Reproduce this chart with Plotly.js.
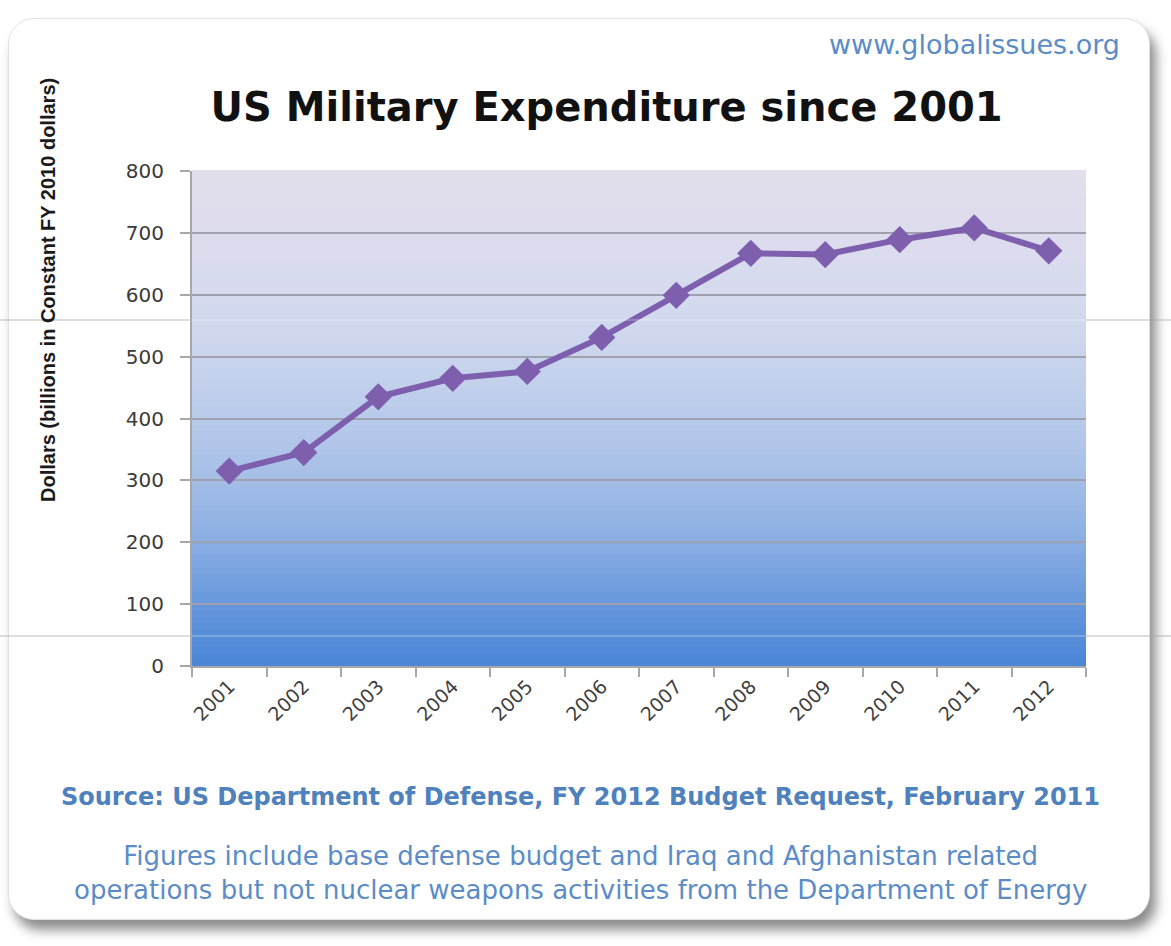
<!DOCTYPE html>
<html>
<head>
<meta charset="utf-8">
<script src="https://cdn.plot.ly/plotly-3.0.1.min.js"></script>
<style>
  html, body { margin: 0; padding: 0; background: #ffffff; }
  #wrap { position: relative; width: 1171px; height: 946px; overflow: hidden; }
  #card { position: absolute; left: 8px; top: 18px; width: 1140px; height: 900px;
          border-radius: 26px; background: #ffffff; border: 1px solid #e2e2e2;
          box-shadow: 6px 10px 12px rgba(0,0,0,0.45); }
  #chart { position: absolute; left: 0; top: 0; width: 1171px; height: 946px; }
</style>
</head>
<body>
<div id="wrap">
  <div id="card"></div>
  <div id="chart"></div>
</div>
<script>
// ---- data ----
const years = ["2001","2002","2003","2004","2005","2006","2007","2008","2009","2010","2011","2012"];
const spending = [315, 345, 435, 465, 476, 531, 599, 667, 665, 689, 708, 671];
const yTickValues = [0, 100, 200, 300, 400, 500, 600, 700, 800];

const chartTitle = "US Military Expenditure since 2001";
const yAxisTitle = "Dollars (billions in Constant FY 2010 dollars)";
const siteLabel = "www.globalissues.org";
const sourceNote = "Source: US Department of Defense, FY 2012 Budget Request, February 2011";
const figuresNote = "Figures include base defense budget and Iraq and Afghanistan related<br>operations but not nuclear weapons activities from the Department of Energy";

// ---- gradient background bands (styling only) ----
const stops = [
  [0.00, [74, 134, 214]],
  [0.10, [96, 147, 219]],
  [0.25, [138, 174, 227]],
  [0.40, [169, 193, 232]],
  [0.55, [192, 207, 236]],
  [0.70, [210, 217, 238]],
  [0.85, [220, 220, 238]],
  [1.00, [227, 223, 236]]
];
function colorAt(t) {
  for (let i = 0; i < stops.length - 1; i++) {
    const a = stops[i], b = stops[i + 1];
    if (t >= a[0] && t <= b[0]) {
      const f = (t - a[0]) / (b[0] - a[0]);
      const c = a[1].map((v, k) => Math.round(v + (b[1][k] - v) * f));
      return `rgb(${c[0]},${c[1]},${c[2]})`;
    }
  }
  const l = stops[stops.length - 1][1];
  return `rgb(${l[0]},${l[1]},${l[2]})`;
}
const shapes = [];
const nBands = 80;
for (let i = 0; i < nBands; i++) {
  const y0 = i / nBands, y1 = (i + 1) / nBands + 0.002;
  shapes.push({
    type: "rect", xref: "paper", yref: "paper", layer: "below",
    x0: 0, x1: 1, y0: y0, y1: y1,
    fillcolor: colorAt((i + 0.5) / nBands), line: { width: 0 }
  });
}
// faint scan-artifact lines seen in the reference image
[320, 636].forEach(py => {
  const yp = (666 - py) / 495;
  shapes.push({ type: "line", xref: "paper", yref: "paper", layer: "above",
    x0: -192 / 894, x1: 0, y0: yp, y1: yp, line: { color: "rgba(170,170,170,0.8)", width: 1 } });
  shapes.push({ type: "line", xref: "paper", yref: "paper", layer: "above",
    x0: 0, x1: 1, y0: yp, y1: yp, line: { color: "rgba(255,255,255,0.45)", width: 1 } });
  shapes.push({ type: "line", xref: "paper", yref: "paper", layer: "above",
    x0: 1, x1: 1 + 85 / 894, y0: yp, y1: yp, line: { color: "rgba(170,170,170,0.8)", width: 1 } });
});

const trace = {
  x: years,
  y: spending,
  type: "scatter",
  mode: "lines+markers",
  line: { color: "#7e5fae", width: 6 },
  marker: { symbol: "diamond", size: 21, color: "#7e5fae" },
  hoverinfo: "x+y",
  showlegend: false
};

const blue = "#4f81bd";
const layout = {
  width: 1171,
  height: 946,
  margin: { l: 192, r: 85, t: 171, b: 280 },
  paper_bgcolor: "rgba(0,0,0,0)",
  plot_bgcolor: "rgba(0,0,0,0)",
  title: {
    text: chartTitle,
    xref: "container", yref: "container",
    x: 0.518, y: 0.887, xanchor: "center", yanchor: "middle",
    font: { family: "DejaVu Sans, sans-serif", size: 40, color: "#111111", weight: 700 }
  },
  xaxis: {
    type: "category",
    range: [-0.5, 11.5],
    tickson: "boundaries",
    ticks: "outside", ticklen: 9, tickcolor: "#a8a8a8", tickwidth: 2,
    showline: true, linecolor: "#a8a8a8", linewidth: 2,
    showgrid: false,
    tickangle: -45,
    tickfont: { family: "DejaVu Sans, sans-serif", size: 19, color: "#404040" },
    fixedrange: true
  },
  yaxis: {
    range: [0, 800],
    tickvals: yTickValues,
    ticks: "outside", ticklen: 10, tickcolor: "#a8a8a8", tickwidth: 2,
    ticklabelstandoff: 12,
    showline: true, linecolor: "#a8a8a8", linewidth: 2,
    showgrid: true, gridcolor: "#a0a0ae", gridwidth: 2,
    zeroline: false,
    tickfont: { family: "DejaVu Sans, sans-serif", size: 20, color: "#3a3a3a" },
    fixedrange: true
  },
  shapes: shapes,
  annotations: [
    {
      text: yAxisTitle, textangle: -90,
      xref: "paper", yref: "paper",
      x: (48 - 192) / 894, y: (666 - 290) / 495,
      xanchor: "center", yanchor: "middle", showarrow: false,
      font: { family: "Liberation Sans Narrow, Liberation Sans, sans-serif", size: 20, color: "#1a1a1a", weight: 700 }
    },
    {
      text: siteLabel,
      xref: "paper", yref: "paper",
      x: (1122 - 192) / 894, y: (666 - 45) / 495,
      xanchor: "right", yanchor: "middle", showarrow: false,
      font: { family: "DejaVu Sans, sans-serif", size: 27, color: "#5b8cc8" }
    },
    {
      text: sourceNote,
      xref: "paper", yref: "paper",
      x: (580 - 192) / 894, y: (666 - 797) / 495,
      xanchor: "center", yanchor: "middle", showarrow: false,
      font: { family: "DejaVu Sans, sans-serif", size: 24, color: blue, weight: 700 }
    },
    {
      text: figuresNote,
      xref: "paper", yref: "paper",
      x: (580 - 192) / 894, y: (666 - 873) / 495,
      xanchor: "center", yanchor: "middle", showarrow: false,
      align: "center",
      font: { family: "DejaVu Sans, sans-serif", size: 26, color: "#5b8cc8" }
    }
  ]
};

Plotly.newPlot("chart", [trace], layout, { displayModeBar: false });
</script>
</body>
</html>
